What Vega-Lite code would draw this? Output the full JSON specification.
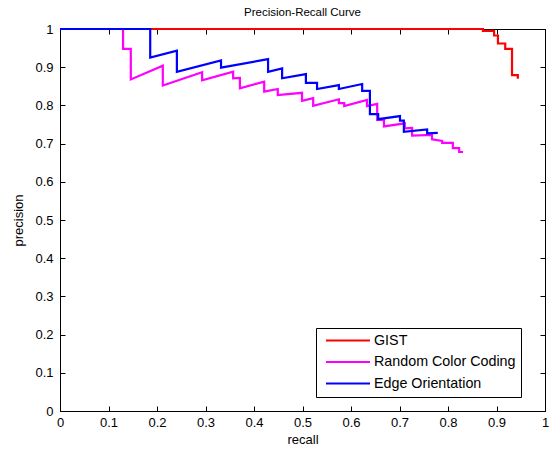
{
  "$schema": "https://vega.github.io/schema/vega-lite/v6.json",
  "width": 485,
  "height": 382,
  "autosize": {"type": "none"},
  "padding": {"left": 60, "top": 29, "right": 5, "bottom": 45},
  "background": "white",
  "title": {"text": "Precision-Recall Curve", "fontSize": 11.5, "fontWeight": "normal", "font": "Liberation Sans", "color": "black", "offset": 5, "anchor": "middle"},
  "config": {
    "view": {"stroke": "black", "strokeWidth": 1},
    "axis": {"labelFont": "Liberation Sans", "titleFont": "Liberation Sans", "labelFontSize": 13, "titleFontSize": 13, "titleFontWeight": "normal", "labelColor": "black", "titleColor": "black", "domainColor": "black", "tickColor": "black", "grid": false, "tickSize": -5}
  },
  "data": {"values": [
    {"s": "GIST", "i": 1, "r": 0, "p": 1},
    {"s": "GIST", "i": 2, "r": 0.872, "p": 1},
    {"s": "GIST", "i": 3, "r": 0.872, "p": 0.995},
    {"s": "GIST", "i": 4, "r": 0.895, "p": 0.995},
    {"s": "GIST", "i": 5, "r": 0.895, "p": 0.983},
    {"s": "GIST", "i": 6, "r": 0.903, "p": 0.983},
    {"s": "GIST", "i": 7, "r": 0.903, "p": 0.962},
    {"s": "GIST", "i": 8, "r": 0.918, "p": 0.962},
    {"s": "GIST", "i": 9, "r": 0.918, "p": 0.948},
    {"s": "GIST", "i": 10, "r": 0.932, "p": 0.948},
    {"s": "GIST", "i": 11, "r": 0.932, "p": 0.879},
    {"s": "GIST", "i": 12, "r": 0.944, "p": 0.879},
    {"s": "GIST", "i": 13, "r": 0.944, "p": 0.87},
    {"s": "Random Color Coding", "i": 1, "r": 0, "p": 1},
    {"s": "Random Color Coding", "i": 2, "r": 0.13, "p": 1},
    {"s": "Random Color Coding", "i": 3, "r": 0.13, "p": 0.948},
    {"s": "Random Color Coding", "i": 4, "r": 0.146, "p": 0.948},
    {"s": "Random Color Coding", "i": 5, "r": 0.146, "p": 0.868},
    {"s": "Random Color Coding", "i": 6, "r": 0.212, "p": 0.904},
    {"s": "Random Color Coding", "i": 7, "r": 0.212, "p": 0.852},
    {"s": "Random Color Coding", "i": 8, "r": 0.293, "p": 0.887},
    {"s": "Random Color Coding", "i": 9, "r": 0.293, "p": 0.866},
    {"s": "Random Color Coding", "i": 10, "r": 0.357, "p": 0.888},
    {"s": "Random Color Coding", "i": 11, "r": 0.357, "p": 0.871},
    {"s": "Random Color Coding", "i": 12, "r": 0.371, "p": 0.872},
    {"s": "Random Color Coding", "i": 13, "r": 0.371, "p": 0.845},
    {"s": "Random Color Coding", "i": 14, "r": 0.421, "p": 0.862},
    {"s": "Random Color Coding", "i": 15, "r": 0.421, "p": 0.836},
    {"s": "Random Color Coding", "i": 16, "r": 0.449, "p": 0.843},
    {"s": "Random Color Coding", "i": 17, "r": 0.449, "p": 0.827},
    {"s": "Random Color Coding", "i": 18, "r": 0.499, "p": 0.833},
    {"s": "Random Color Coding", "i": 19, "r": 0.499, "p": 0.812},
    {"s": "Random Color Coding", "i": 20, "r": 0.522, "p": 0.819},
    {"s": "Random Color Coding", "i": 21, "r": 0.522, "p": 0.799},
    {"s": "Random Color Coding", "i": 22, "r": 0.575, "p": 0.816},
    {"s": "Random Color Coding", "i": 23, "r": 0.575, "p": 0.806},
    {"s": "Random Color Coding", "i": 24, "r": 0.586, "p": 0.806},
    {"s": "Random Color Coding", "i": 25, "r": 0.586, "p": 0.798},
    {"s": "Random Color Coding", "i": 26, "r": 0.633, "p": 0.814},
    {"s": "Random Color Coding", "i": 27, "r": 0.633, "p": 0.798},
    {"s": "Random Color Coding", "i": 28, "r": 0.654, "p": 0.804},
    {"s": "Random Color Coding", "i": 29, "r": 0.654, "p": 0.762},
    {"s": "Random Color Coding", "i": 30, "r": 0.668, "p": 0.762},
    {"s": "Random Color Coding", "i": 31, "r": 0.668, "p": 0.745},
    {"s": "Random Color Coding", "i": 32, "r": 0.711, "p": 0.753},
    {"s": "Random Color Coding", "i": 33, "r": 0.711, "p": 0.74},
    {"s": "Random Color Coding", "i": 34, "r": 0.726, "p": 0.741},
    {"s": "Random Color Coding", "i": 35, "r": 0.726, "p": 0.721},
    {"s": "Random Color Coding", "i": 36, "r": 0.767, "p": 0.723},
    {"s": "Random Color Coding", "i": 37, "r": 0.767, "p": 0.711},
    {"s": "Random Color Coding", "i": 38, "r": 0.788, "p": 0.707},
    {"s": "Random Color Coding", "i": 39, "r": 0.788, "p": 0.702},
    {"s": "Random Color Coding", "i": 40, "r": 0.81, "p": 0.702},
    {"s": "Random Color Coding", "i": 41, "r": 0.81, "p": 0.688},
    {"s": "Random Color Coding", "i": 42, "r": 0.823, "p": 0.688},
    {"s": "Random Color Coding", "i": 43, "r": 0.823, "p": 0.678},
    {"s": "Random Color Coding", "i": 44, "r": 0.831, "p": 0.678},
    {"s": "Edge Orientation", "i": 1, "r": 0, "p": 1},
    {"s": "Edge Orientation", "i": 2, "r": 0.186, "p": 1},
    {"s": "Edge Orientation", "i": 3, "r": 0.186, "p": 0.925},
    {"s": "Edge Orientation", "i": 4, "r": 0.241, "p": 0.943},
    {"s": "Edge Orientation", "i": 5, "r": 0.241, "p": 0.888},
    {"s": "Edge Orientation", "i": 6, "r": 0.332, "p": 0.918},
    {"s": "Edge Orientation", "i": 7, "r": 0.332, "p": 0.899},
    {"s": "Edge Orientation", "i": 8, "r": 0.429, "p": 0.921},
    {"s": "Edge Orientation", "i": 9, "r": 0.429, "p": 0.888},
    {"s": "Edge Orientation", "i": 10, "r": 0.458, "p": 0.897},
    {"s": "Edge Orientation", "i": 11, "r": 0.458, "p": 0.871},
    {"s": "Edge Orientation", "i": 12, "r": 0.507, "p": 0.882},
    {"s": "Edge Orientation", "i": 13, "r": 0.507, "p": 0.859},
    {"s": "Edge Orientation", "i": 14, "r": 0.53, "p": 0.859},
    {"s": "Edge Orientation", "i": 15, "r": 0.53, "p": 0.843},
    {"s": "Edge Orientation", "i": 16, "r": 0.575, "p": 0.853},
    {"s": "Edge Orientation", "i": 17, "r": 0.575, "p": 0.843},
    {"s": "Edge Orientation", "i": 18, "r": 0.623, "p": 0.856},
    {"s": "Edge Orientation", "i": 19, "r": 0.623, "p": 0.838},
    {"s": "Edge Orientation", "i": 20, "r": 0.639, "p": 0.838},
    {"s": "Edge Orientation", "i": 21, "r": 0.639, "p": 0.777},
    {"s": "Edge Orientation", "i": 22, "r": 0.656, "p": 0.777},
    {"s": "Edge Orientation", "i": 23, "r": 0.656, "p": 0.764},
    {"s": "Edge Orientation", "i": 24, "r": 0.701, "p": 0.772},
    {"s": "Edge Orientation", "i": 25, "r": 0.701, "p": 0.76},
    {"s": "Edge Orientation", "i": 26, "r": 0.709, "p": 0.76},
    {"s": "Edge Orientation", "i": 27, "r": 0.709, "p": 0.731},
    {"s": "Edge Orientation", "i": 28, "r": 0.757, "p": 0.737},
    {"s": "Edge Orientation", "i": 29, "r": 0.757, "p": 0.727},
    {"s": "Edge Orientation", "i": 30, "r": 0.779, "p": 0.728}
  ]},
  "layer": [
    {
      "mark": {"type": "line", "strokeWidth": 2.2, "interpolate": "linear"},
      "encoding": {
        "x": {"field": "r", "type": "quantitative", "scale": {"domain": [0, 1], "nice": false, "zero": false}, "axis": {"title": "recall", "values": [0, 0.1, 0.2, 0.3, 0.4, 0.5, 0.6, 0.7, 0.8, 0.9, 1], "format": "~g", "labelPadding": 10, "titlePadding": 4, "labelFlush": false, "labelOverlap": false}},
        "y": {"field": "p", "type": "quantitative", "scale": {"domain": [0, 1], "nice": false, "zero": false}, "axis": {"title": "precision", "values": [0, 0.1, 0.2, 0.3, 0.4, 0.5, 0.6, 0.7, 0.8, 0.9, 1], "format": "~g", "labelPadding": 12, "titlePadding": 9, "labelFlush": false, "labelOverlap": false}},
        "color": {"field": "s", "type": "nominal", "scale": {"domain": ["GIST", "Random Color Coding", "Edge Orientation"], "range": ["#ff0000", "#ff00ff", "#0000ff"]},
          "legend": {"title": null, "orient": "none", "legendX": 256, "legendY": 299, "symbolType": "stroke", "symbolSize": 1936, "symbolStrokeWidth": 2, "clipHeight": 14, "rowPadding": 6.5, "padding": 5.5, "symbolOffset": 3.5, "labelOffset": 3, "labelFont": "Liberation Sans", "labelFontSize": 14.3, "labelColor": "black", "strokeColor": "black", "fillColor": "white", "cornerRadius": 0, "labelLimit": 300}},
        "order": {"field": "i", "type": "quantitative"}
      }
    },
    {
      "mark": {"type": "line", "strokeOpacity": 0},
      "encoding": {
        "x": {"field": "r", "type": "quantitative", "axis": {"title": null, "labels": false, "values": [0, 0.1, 0.2, 0.3, 0.4, 0.5, 0.6, 0.7, 0.8, 0.9, 1]}},
        "y": {"field": "p", "type": "quantitative", "axis": {"title": null, "labels": false, "values": [0, 0.1, 0.2, 0.3, 0.4, 0.5, 0.6, 0.7, 0.8, 0.9, 1]}},
        "detail": {"field": "s"}
      }
    }
  ],
  "resolve": {"axis": {"x": "independent", "y": "independent"}}
}
